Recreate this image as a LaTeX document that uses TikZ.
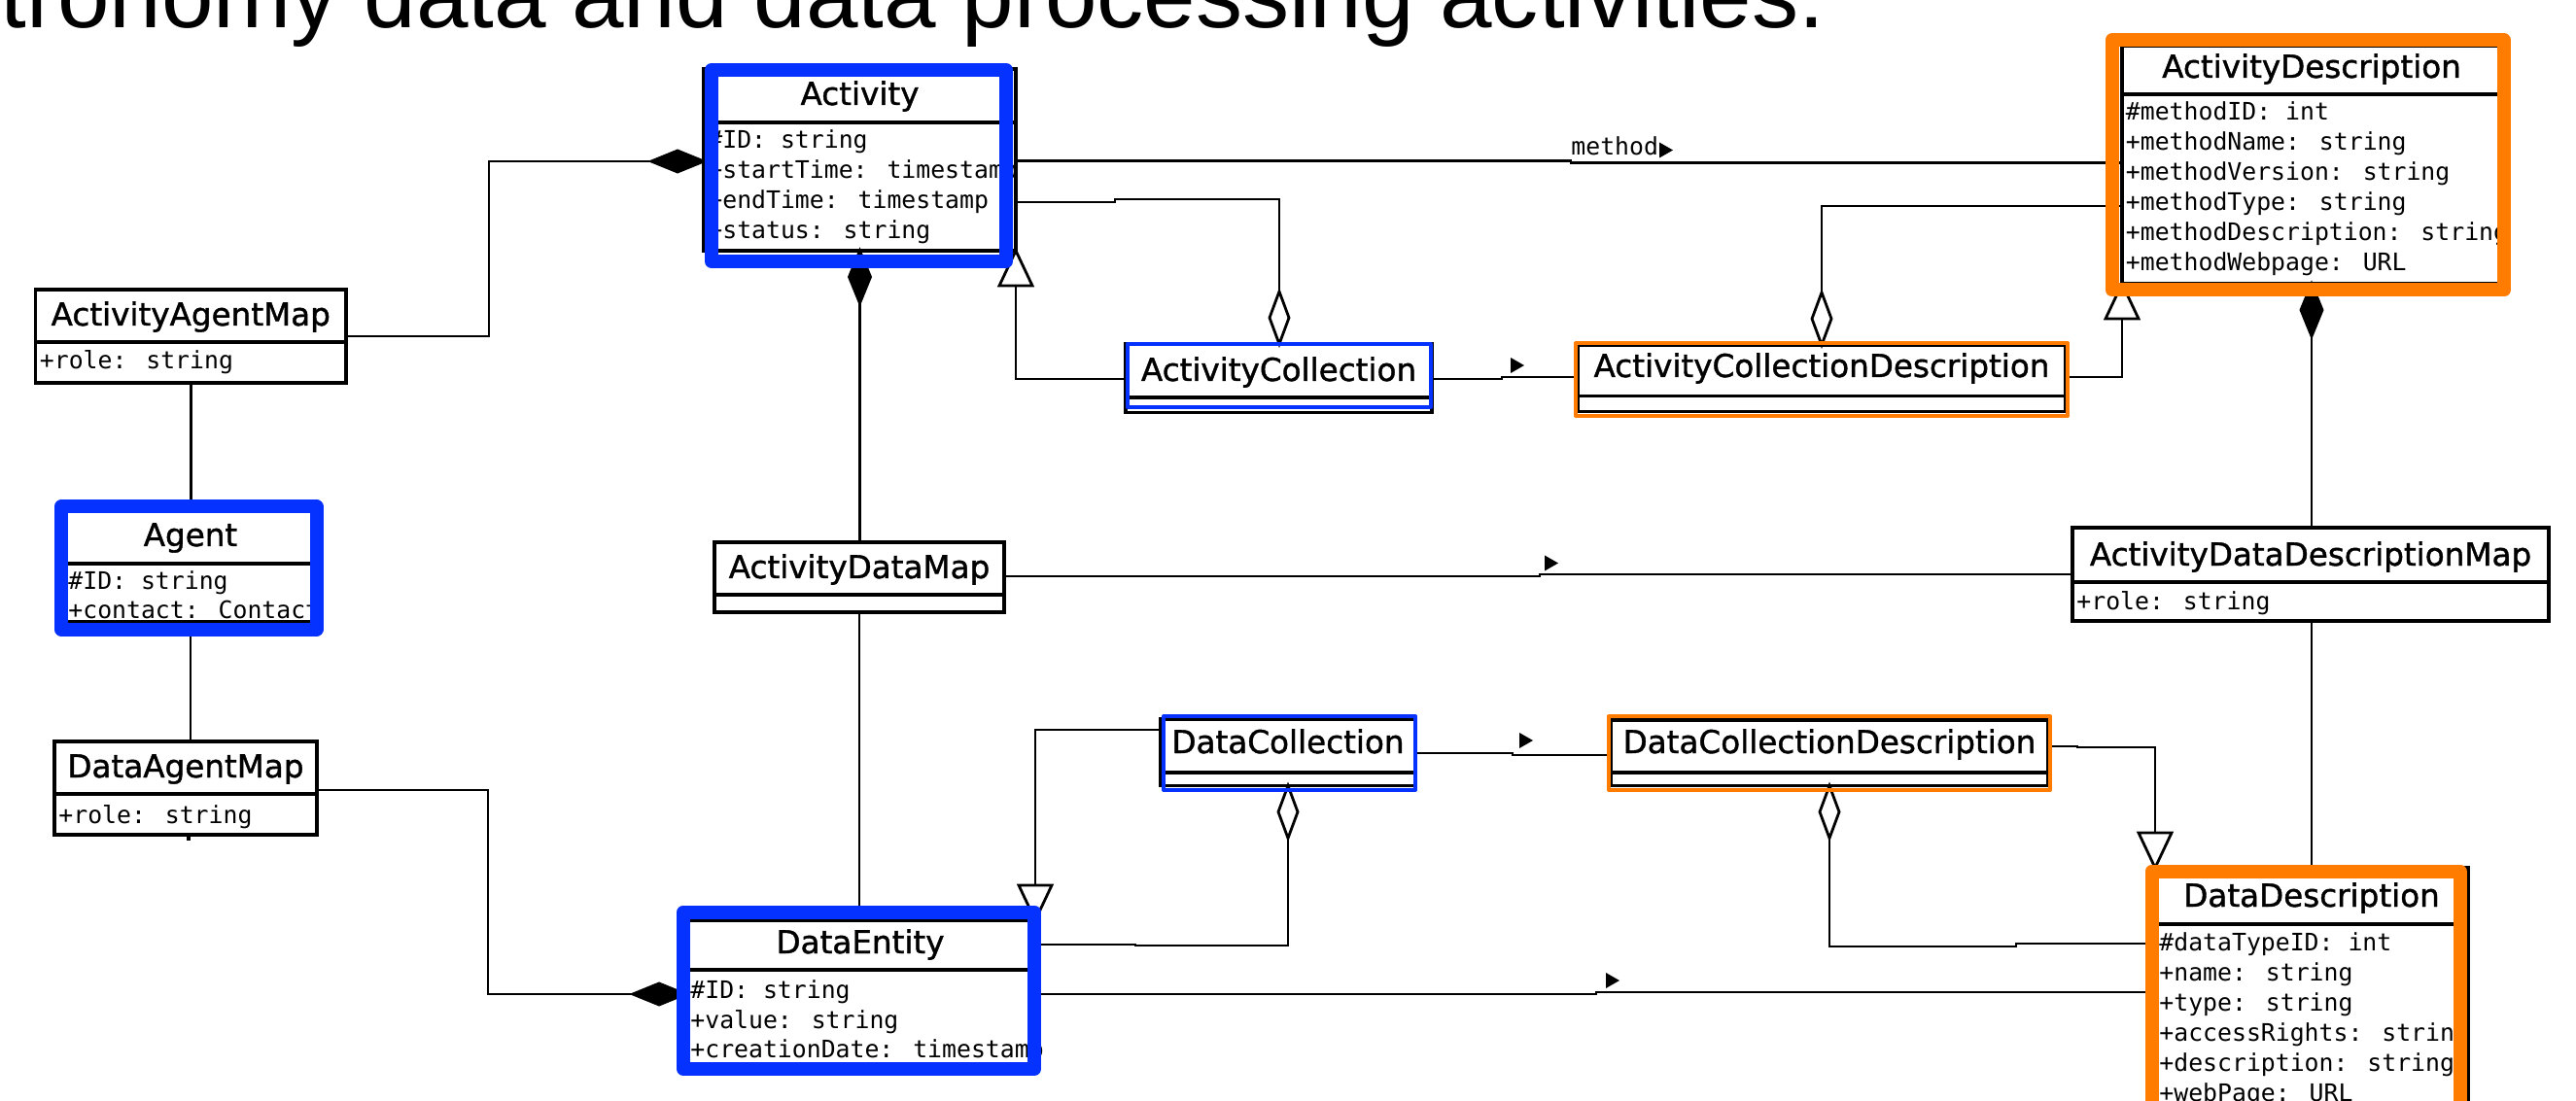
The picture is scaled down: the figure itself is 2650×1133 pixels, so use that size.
\documentclass[tikz,border=0pt]{standalone}
\usepackage{fontspec}
\usetikzlibrary{fit}
\newfontfamily\headfam{Liberation Sans}
\newfontfamily\clsfam[FakeBold=1.2]{DejaVu Sans}
\newfontfamily\attrfam{DejaVu Sans Mono}
\definecolor{hlblue}{RGB}{5,50,255}
\definecolor{hlorange}{RGB}{255,124,0}
\tikzset{
  classbox/.style={draw=black, fill=white, line width=1.6pt, inner sep=0pt, outer sep=0pt},
  sepline/.style={line width=1.6pt},
  clstitle/.style={anchor=base, inner sep=0pt, font=\clsfam\fontsize{16.3pt}{19pt}\selectfont},
  attr/.style={anchor=base west, inner sep=0pt, font=\attrfam\fontsize{12.4pt}{15pt}\selectfont},
  conn/.style={line width=1.4pt},
  mk/.style={line width=1.4pt, line join=miter},
  thickframe/.style={line width=7pt, line join=round},
  thinframe/.style={line width=2pt, line join=round},
  % composition (filled) and aggregation (hollow) diamonds, tip at the origin, pointing right
  pics/compdia/.style={code={\draw[mk,fill=black] (0,0)--(-27,-11)--(-54,0)--(-27,11)--cycle;}},
  pics/aggdia/.style={code={\draw[mk,fill=white] (0,0)--(-27,-10)--(-54,0)--(-27,10)--cycle;}},
  % generalization arrow head
  pics/gentri/.style={code={\draw[mk,fill=white] (0,0)--(-36,-17)--(-36,17)--cycle;}},
  % association direction marker
  pics/navtri/.style={code={\fill (0,0)--(-14,-8)--(-14,8)--cycle;}},
}
\begin{document}
\begin{tikzpicture}[x=0.5pt,y=-0.5pt]
\useasboundingbox (0,0) rectangle (2650,1133);
\clip (0,0) rectangle (2650,1133);
\fill[white] (0,0) rectangle (2650,1133);

% heading
\node[anchor=base west, inner sep=0pt, font=\headfam\fontsize{48.1pt}{55pt}\selectfont] (heading) at (0,29)
  {tronomy data and data processing activities.};

% ---------- classes ----------
\node[classbox, fit={(724,71) (1045,258)}] (act) {};
\node[classbox, fit={(2183,47) (2573,292)}] (ad) {};
\node[classbox, fit={(36.5,298) (356,394)}] (aam) {};
\node[classbox, fit={(66,524) (326,640)}] (ag) {};
\node[classbox, fit={(56,763) (326,859)}] (dam) {};
\node[classbox, fit={(735,558) (1033,630)}] (adm) {};
\node[classbox, fit={(1158,354) (1473,424.5)}] (ac) {};
\node[classbox, fit={(1623,355) (2125,423.5)}] (acd) {};
\node[classbox, fit={(1194,740) (1456,808.5)}] (dc) {};
\node[classbox, fit={(1657,741) (2107,808.5)}] (dcd) {};
\node[classbox, fit={(2132,543) (2622,639)}] (addm) {};
\node[classbox, fit={(705,947) (1065,1095)}] (de) {};
\node[classbox, fit={(2217,893) (2539,1180)}] (dd) {};

% compartment separators
\draw[sepline] (act.west |- 0,126) -- (act.east |- 0,126);
\draw[sepline] (ad.west |- 0,97) -- (ad.east |- 0,97);
\draw[sepline] (aam.west |- 0,352) -- (aam.east |- 0,352);
\draw[sepline] (ag.west |- 0,580) -- (ag.east |- 0,580);
\draw[sepline] (dam.west |- 0,817) -- (dam.east |- 0,817);
\draw[sepline] (adm.west |- 0,612) -- (adm.east |- 0,612);
\draw[sepline] (ac.west |- 0,409) -- (ac.east |- 0,409);
\draw[sepline] (acd.west |- 0,407.5) -- (acd.east |- 0,407.5);
\draw[sepline] (dc.west |- 0,795) -- (dc.east |- 0,795);
\draw[sepline] (dcd.west |- 0,795) -- (dcd.east |- 0,795);
\draw[sepline] (addm.west |- 0,599) -- (addm.east |- 0,599);
\draw[sepline] (de.west |- 0,998) -- (de.east |- 0,998);
\draw[sepline] (dd.west |- 0,951) -- (dd.east |- 0,951);

% class names
\node[clstitle] (act-t) at (884.5,108) {Activity};
\node[clstitle] (ad-t) at (2378,80) {ActivityDescription};
\node[clstitle] (aam-t) at (196.25,335) {ActivityAgentMap};
\node[clstitle] (ag-t) at (196,562) {Agent};
\node[clstitle] (dam-t) at (191,800) {DataAgentMap};
\node[clstitle] (adm-t) at (884,595) {ActivityDataMap};
\node[clstitle] (ac-t) at (1315.5,392) {ActivityCollection};
\node[clstitle] (acd-t) at (1874,388) {ActivityCollectionDescription};
\node[clstitle] (dc-t) at (1325,775) {DataCollection};
\node[clstitle] (dcd-t) at (1882,775) {DataCollectionDescription};
\node[clstitle] (addm-t) at (2377,582) {ActivityDataDescriptionMap};
\node[clstitle] (de-t) at (885,981) {DataEntity};
\node[clstitle] (dd-t) at (2378,933) {DataDescription};

% attributes
\node[attr] (act-a1) at (728,153) {\#ID: string};
\node[attr] (act-a2) at (728,184) {+startTime: timestamp};
\node[attr] (act-a3) at (728,215) {+endTime: timestamp};
\node[attr] (act-a4) at (728,246) {+status: string};

\node[attr] (ad-a1) at (2186.5,124) {\#methodID: int};
\node[attr] (ad-a2) at (2186.5,155) {+methodName: string};
\node[attr] (ad-a3) at (2186.5,186) {+methodVersion: string};
\node[attr] (ad-a4) at (2186.5,217) {+methodType: string};
\node[attr] (ad-a5) at (2186.5,248) {+methodDescription: string};
\node[attr] (ad-a6) at (2186.5,279) {+methodWebpage: URL};

\node[attr] (aam-a1) at (40.5,380) {+role: string};
\node[attr] (ag-a1) at (70,607) {\#ID: string};
\node[attr] (ag-a2) at (70,637) {+contact: Contact};
\node[attr] (dam-a1) at (60,847) {+role: string};
\node[attr] (addm-a1) at (2136,627) {+role: string};

\node[attr] (de-a1) at (710,1027) {\#ID: string};
\node[attr] (de-a2) at (710,1058) {+value: string};
\node[attr] (de-a3) at (710,1088) {+creationDate: timestamp};

\node[attr] (dd-a1) at (2221,978) {\#dataTypeID: int};
\node[attr] (dd-a2) at (2221,1009) {+name: string};
\node[attr] (dd-a3) at (2221,1040) {+type: string};
\node[attr] (dd-a4) at (2221,1071) {+accessRights: string};
\node[attr] (dd-a5) at (2221,1102) {+description: string};
\node[attr] (dd-a6) at (2221,1133) {+webPage: URL};

% ---------- connectors ----------
\draw[conn] (act.west |- 0,166) ++(-54,0) -- (503,166) -- (503,346) -- (aam.east |- 0,346);
\draw[conn] (act.east |- 0,165.5) -- (1616,165.5) -- (1616,167.5) -- (ad.west |- 0,167.5);
\node[attr] (method) at (1616,160) {method};
\pic at (1721,154.5) {navtri};
\draw[conn] (ac.north -| 1316,0) ++(0,-54) -- (1316,205) -- (1147,205) -- (1147,208) -- (act.east |- 0,208);
\draw[conn] (act.south east) ++(0,36) -- (1045,390) -- (ac.west |- 0,390);
\draw[conn] (ac.east |- 0,390) -- (1545,390) -- (1545,388) -- (acd.west |- 0,388);
\pic at (1568,376) {navtri};
\draw[conn] (acd.north) ++(0,-54) -- (1874,212) -- (ad.west |- 0,212);
\draw[conn] (ad.south west) ++(0,36) -- (2183,388) -- (acd.east |- 0,388);
\draw[conn] (ad.south) ++(0,54) -- (addm.north -| ad.south);
\draw[conn] (addm.south -| dd.north) -- (dd.north);
\draw[conn] (act.south) ++(0,54) -- (adm.north -| act.south);
\draw[conn] (adm.south) -- (de.north -| adm.south);
\draw[conn] (adm.east |- 0,593) -- (1584,593) -- (1584,591) -- (addm.west |- 0,591);
\pic at (1603,579.5) {navtri};
\draw[conn] (de.west |- 0,1023) ++(-54,0) -- (502,1023) -- (502,813) -- (dam.east |- 0,813);
\draw[conn] (de.north east) ++(0,-36) -- (1065,751) -- (dc.west |- 0,751);
\draw[conn] (dc.south) ++(0,54) -- (1325,973) -- (1168,973) -- (1168,972) -- (de.east |- 0,972);
\draw[conn] (dc.east |- 0,775) -- (1556,775) -- (1556,777) -- (dcd.west |- 0,777);
\pic at (1577,762) {navtri};
\draw[conn] (dd.north west) ++(0,-36) -- (2217,769) -- (2137,769) -- (2137,768) -- (dcd.east |- 0,768);
\draw[conn] (dcd.south) ++(0,54) -- (1882,974) -- (2074,974) -- (2074,971) -- (dd.west |- 0,971);
\draw[conn] (de.east |- 0,1023) -- (1642,1023) -- (1642,1021) -- (dd.west |- 0,1021);
\pic at (1666,1009) {navtri};
\draw[conn] (aam.south) -- (ag.north -| aam.south);
\draw[conn] (ag.south) -- (dam.north -| ag.south);
\draw[line width=2pt] (dam.south -| 194,0) -- ++(0,6);

% ---------- association ends ----------
\pic at (act.west |- 0,166) {compdia};
\pic[rotate=90] at (act.south) {compdia};
\pic[rotate=90] at (ad.south) {compdia};
\pic at (de.west |- 0,1023) {compdia};
\pic[rotate=-90] at (ac.north -| 1316,0) {aggdia};
\pic[rotate=-90] at (acd.north) {aggdia};
\pic[rotate=90] at (dc.south) {aggdia};
\pic[rotate=90] at (dcd.south) {aggdia};
\pic[rotate=90] at (act.south east) {gentri};
\pic[rotate=90] at (ad.south west) {gentri};
\pic[rotate=-90] at (de.north east) {gentri};
\pic[rotate=-90] at (dd.north west) {gentri};

% ---------- highlight frames ----------
\draw[hlblue, thickframe] (732,72) rectangle (1035,269);
\draw[hlblue, thickframe] (63,521.5) rectangle (325.5,647.5);
\draw[hlblue, thickframe] (703,938.5) rectangle (1064,1100);
\draw[hlblue, thinframe] (1159.5,354) rectangle (1472,419);
\draw[hlblue, thinframe] (1197,737) rectangle (1456,813);
\draw[hlorange, thickframe] (2172.5,41.5) rectangle (2576,298.5);
\draw[hlorange, thickframe] (2213.5,896.5) rectangle (2530.5,1200);
\draw[hlorange, thinframe] (1621,353) rectangle (2127,428);
\draw[hlorange, thinframe] (1655,737) rectangle (2109,813);
\end{tikzpicture}
\end{document}
